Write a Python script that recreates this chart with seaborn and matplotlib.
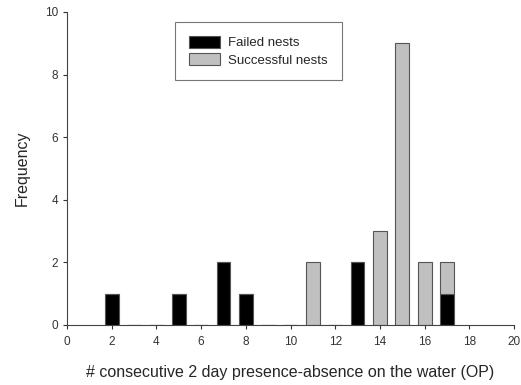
import pandas as pd
import matplotlib
matplotlib.use("Agg")
import matplotlib.pyplot as plt
from matplotlib.patches import Patch
import seaborn as sns

sns.set_style("ticks")
plt.rcParams['font.family'] = ['Liberation Sans', 'DejaVu Sans']

# data
failed_x = [2, 5, 7, 8, 13, 17]
failed_n = [1, 1, 2, 1, 2, 1]
success_x = [11, 14, 15, 16, 17]
success_n = [2, 3, 9, 2, 1]

groups = ['Failed nests', 'Successful nests']
colors = {'Failed nests': '#000000', 'Successful nests': '#c0c0c0'}

df = pd.DataFrame({
    'op': failed_x + success_x,
    'n': failed_n + success_n,
    'group': [groups[0]] * len(failed_x) + [groups[1]] * len(success_x),
})

fig = plt.figure(figsize=(5.21, 3.85), dpi=100)
ax = fig.add_axes([0.1286, 0.156, 0.858, 0.813])

# histplot stacks in reverse hue order, so Failed ends up at the bottom
sns.histplot(data=df, x='op', weights='n', hue='group',
             hue_order=groups[::-1], palette=colors, discrete=True,
             multiple='stack', shrink=0.62, alpha=1,
             edgecolor='#555555', linewidth=0.8, legend=False, ax=ax)

ax.set_xlim(0, 20)
ax.set_ylim(0, 10)
ax.set_xticks(range(0, 21, 2))
ax.set_yticks(range(0, 11, 2))
ax.tick_params(labelsize=8.5, colors='#333333', length=3, width=0.8)
ax.tick_params(axis='x', pad=5)
ax.set_xlabel('# consecutive 2 day presence-absence on the water (OP)',
              fontsize=11.5, labelpad=12)
ax.set_ylabel('Frequency', fontsize=11.5, labelpad=11)
for s in ['left', 'bottom']:
    ax.spines[s].set_color('#444444')
    ax.spines[s].set_linewidth(0.8)
sns.despine(ax=ax)

handles = [Patch(facecolor=colors[g], edgecolor='#555555', linewidth=0.8, label=g)
           for g in groups]
leg = ax.legend(handles=handles, loc='upper left', bbox_to_anchor=(0.241, 0.968),
                fontsize=9.5, frameon=True, fancybox=False, edgecolor='#555555',
                handlelength=2.4, handleheight=1.0, borderpad=1.05,
                labelspacing=0.3, handletextpad=0.6, borderaxespad=0)
leg.get_frame().set_linewidth(0.8)

plt.savefig('out.png', dpi=100)
